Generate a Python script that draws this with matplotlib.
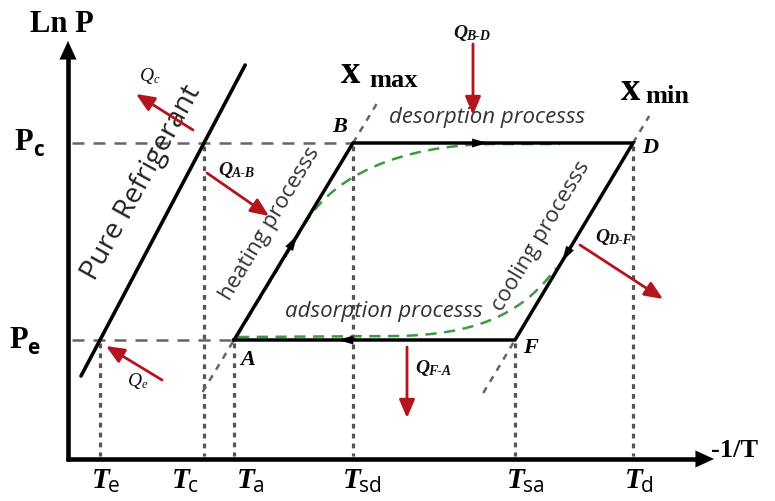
import matplotlib
matplotlib.use("Agg")
import matplotlib.pyplot as plt
from matplotlib.path import Path
from matplotlib.patches import PathPatch

# ---- cycle definition -------------------------------------------------
# temperature marks on the -1/T axis and pressure levels on the Ln P axis
t_names = ["e", "c", "a", "sd", "sa", "d"]
t_pos = [100, 204, 234, 353, 515, 633]
p_names = ["c", "e"]
p_pos = [143, 340]

T = dict(zip(t_names, t_pos))
P = dict(zip(p_names, p_pos))

# state points of the adsorption cycle
A = (T["a"], P["e"])
B = (T["sd"], P["c"])
D = (T["d"], P["c"])
F = (T["sa"], P["e"])

# heat flows: subscript, tail, head
q_subs = ["c", "A-B", "B-D", "D-F", "F-A", "e"]
q_tails = [(193, 130), (207, 173), (473, 44), (580, 245), (407, 347), (162, 380)]
q_heads = [(136, 94), (269, 216), (473, 115), (663, 299), (407, 418), (106, 346)]
q_label_xy = [(140, 81), (218, 175), (453, 38), (595, 242), (415, 373), (128, 386)]
q_bold = [False, True, True, True, True, False]

SERIF = "Liberation Serif"
SANS = "Open Sans"
RED = "#b3151d"
GRAY = "#666666"
GREEN = "#3f9a3f"
TXT = "#333333"

fig = plt.figure(figsize=(7.75, 5.01), dpi=100)
ax = fig.add_axes([0, 0, 1, 1])
ax.set_xlim(0, 775)
ax.set_ylim(501, 0)
ax.axis("off")


def sub_text(x, y, main, sub, msize, ssize, mfont, sfont, mstyle="normal",
             sstyle="normal", mweight="bold", sweight="bold", dx=0.5, dy=0.0,
             color="black"):
    t = ax.text(x, y, main, fontsize=msize, family=mfont, style=mstyle,
                weight=mweight, ha="left", va="baseline", color=color)
    ax.annotate(sub, xy=(1, 0), xycoords=t, xytext=(dx, dy),
                textcoords="offset points", fontsize=ssize, family=sfont,
                style=sstyle, weight=sweight, ha="left", va="baseline",
                color=color)
    return t


def arrow(tail, head, color, lw, ms, hl, hw, z=4):
    ax.annotate("", xy=head, xytext=tail,
                arrowprops=dict(arrowstyle=f"-|>,head_length={hl},head_width={hw}",
                                color=color, lw=lw, mutation_scale=ms,
                                shrinkA=0, shrinkB=0), zorder=z)


# ---- axes ---------------------------------------------------------------
x0, y0 = 68, 459
ax.plot([x0, x0], [y0 + 2, 55], color="black", lw=3.3, solid_capstyle="butt")
ax.plot([x0 - 2, 700], [y0, y0], color="black", lw=3.3, solid_capstyle="butt")
arrow((x0, 62), (x0, 41), "black", 0.1, 11, 1.2, 0.55)
arrow((695, y0), (714, y0), "black", 0.1, 11, 1.2, 0.55)

ax.text(30, 32, "Ln P", fontsize=22, family=SERIF, weight="bold",
        ha="left", va="baseline")
ax.text(711, 457, "-1/T", fontsize=19, family=SERIF, weight="bold",
        ha="left", va="baseline")

# pressure levels
sub_text(14, 150, "P", "c", 22, 15, SERIF, SANS, dx=0, dy=1)
sub_text(9, 348, "P", "e", 22, 15, SERIF, SANS, dx=0, dy=1)
ax.plot([x0 + 4, B[0]], [P["c"], P["c"]], color=GRAY, lw=1.8,
        dashes=(4.8, 3.6))
ax.plot([x0 + 4, A[0]], [P["e"], P["e"]], color=GRAY, lw=1.8,
        dashes=(4.8, 3.6))

# temperature drop lines and tick labels
t_label_x = [92, 172, 237, 343, 507, 625]
t_top = {"e": P["e"], "c": P["c"], "a": P["e"], "sd": P["c"],
         "sa": P["e"], "d": P["c"]}
for name, xpos, lx in zip(t_names, t_pos, t_label_x):
    ax.plot([xpos, xpos], [t_top[name] + 3, y0 - 3], color="#555555",
            lw=2.3, dashes=(1.5, 1.6))
    sub_text(lx, 488, "T", name, 21, 15, SERIF, SANS, mstyle="italic",
             sweight="normal", dx=-1, dy=1.5)

# ---- pure refrigerant line ---------------------------------------------
slope = (P["e"] - P["c"]) / (T["e"] - T["c"])  # pixel slope of the saturation line
y_lo, y_hi = 376, 65
ax.plot([T["e"] + (y_lo - P["e"]) / slope, T["e"] + (y_hi - P["e"]) / slope],
        [y_lo, y_hi], color="black", lw=2.6, solid_capstyle="round")
ax.text(142, 183, "Pure Refrigerant", fontsize=20.5, family=SANS,
        rotation=61, rotation_mode="anchor", ha="center", va="center",
        color="#222222")

# ---- isosteres x_max / x_min (dashed extensions) -----------------------
def ext(p, q, y):
    return p[0] + (y - p[1]) * (q[0] - p[0]) / (q[1] - p[1])

ax.plot([ext(A, B, 392), A[0]], [392, A[1]], color=GRAY, lw=1.8, dashes=(2.6, 2.6))
ax.plot([B[0], ext(A, B, 103)], [B[1], 103], color=GRAY, lw=1.8, dashes=(2.6, 2.6))
ax.plot([ext(F, D, 393), F[0]], [393, F[1]], color=GRAY, lw=1.8, dashes=(2.6, 2.6))
ax.plot([D[0], ext(F, D, 116)], [D[1], 116], color=GRAY, lw=1.8, dashes=(2.6, 2.6))

ax.text(341, 83, "x", fontsize=28, family=SERIF, weight="bold", ha="left",
        va="baseline")
ax.text(369, 87, "max", fontsize=19, family=SERIF, weight="bold", ha="left",
        va="baseline")
ax.text(621, 100, "x", fontsize=28, family=SERIF, weight="bold", ha="left",
        va="baseline")
ax.text(645, 103, "min", fontsize=19, family=SERIF, weight="bold", ha="left",
        va="baseline")

# ---- green real-cycle curves -------------------------------------------
upper = Path([(A[0] + 2, A[1] - 2), (306, 222), (335, 175), (400, 146), (490, 144),
              (560, 144)],
             [Path.MOVETO, Path.LINETO, Path.CURVE4, Path.CURVE4, Path.CURVE4,
              Path.LINETO])
lower = Path([(A[0] + 4, 337), (400, 336), (470, 334), (520, 318), (556, 268)],
             [Path.MOVETO, Path.LINETO, Path.CURVE4, Path.CURVE4, Path.CURVE4])
for pth in (upper, lower):
    ax.add_patch(PathPatch(pth, fill=False, edgecolor=GREEN, lw=1.8,
                           linestyle=(0, (4.5, 3.0)), zorder=2))

# ---- ideal cycle A-B-D-F -----------------------------------------------
cx = [A[0], B[0], D[0], F[0], A[0]]
cy = [A[1], B[1], D[1], F[1], A[1]]
ax.plot(cx, cy, color="black", lw=2.5, solid_joinstyle="miter", zorder=3)

# direction marks on each leg
for (p, q, f) in [(A, B, 0.53), (B, D, 0.48), (D, F, 0.6), (F, A, 0.63)]:
    tip = (p[0] + (q[0] - p[0]) * f, p[1] + (q[1] - p[1]) * f)
    back = (p[0] + (q[0] - p[0]) * (f - 0.04), p[1] + (q[1] - p[1]) * (f - 0.04))
    arrow(back, tip, "black", 0.1, 9, 1.2, 0.35)

for lab, lx, ly in [("A", 240, 365), ("B", 332, 132), ("D", 642, 153),
                    ("F", 523, 353)]:
    ax.text(lx, ly, lab, fontsize=16, family=SERIF, style="italic",
            weight="bold", ha="left", va="baseline")

# process labels
ax.text(270, 224, "heating processs", fontsize=16, family=SANS, rotation=59,
        rotation_mode="anchor", ha="center", va="center", color=TXT)
ax.text(541, 236, "cooling processs", fontsize=16, family=SANS, rotation=59,
        rotation_mode="anchor", ha="center", va="center", color=TXT)
ax.text(487, 117, "desorption processs", fontsize=16, family=SANS,
        style="italic", ha="center", va="center", color=TXT)
ax.text(384, 312, "adsorption processs", fontsize=16, family=SANS,
        style="italic", ha="center", va="center", color=TXT)

# ---- heat flows ----------------------------------------------------------
for sub, tail, head, (lx, ly), bold in zip(q_subs, q_tails, q_heads,
                                           q_label_xy, q_bold):
    arrow(tail, head, RED, 2.0, 10, 1.1, 0.47)
    w = "bold" if bold else "normal"
    sub_text(lx, ly, "Q", sub, 14, 10 if bold else 9, SERIF, SERIF,
             mstyle="italic", sstyle="italic", mweight=w, sweight=w,
             dx=-0.5, dy=1.5, color="#111111")

fig.savefig("out.png", dpi=100)
